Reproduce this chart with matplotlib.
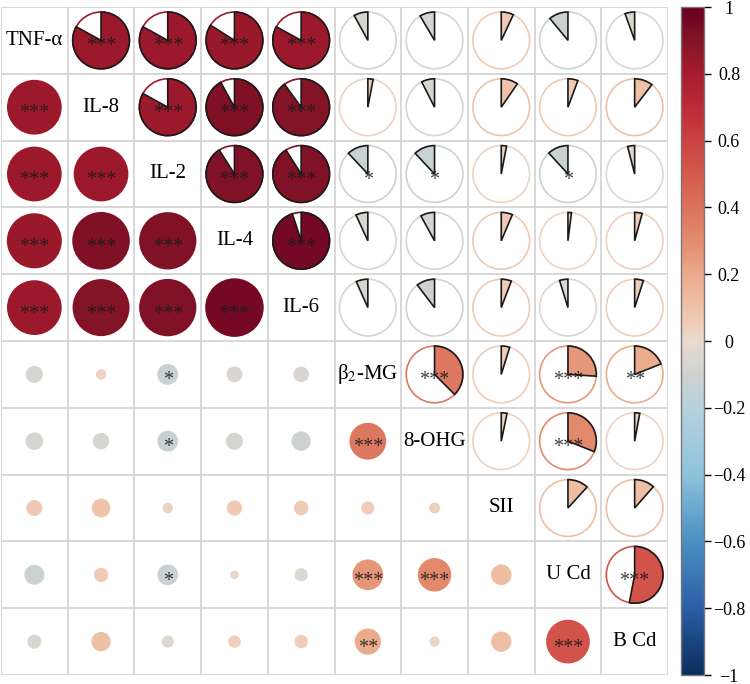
import numpy as np
import matplotlib
matplotlib.use('Agg')
import matplotlib.pyplot as plt
from matplotlib.colors import LinearSegmentedColormap, Normalize
from matplotlib.patches import Circle, Wedge
from matplotlib.colorbar import ColorbarBase

plt.rcParams['font.family'] = ['Liberation Serif', 'DejaVu Serif']
plt.rcParams['mathtext.fontset'] = 'stix'

labels = ['TNF-α', 'IL-8', 'IL-2', 'IL-4', 'IL-6', r'β$_2$-MG', '8-OHG', 'SII', 'U Cd', 'B Cd']

# correlations, upper triangle row by row (with the variables to the right)
r_tnf = [0.83, 0.83, 0.84, 0.83, -0.08, -0.085, 0.07, -0.11, -0.055]
r_il8 = [0.83, 0.92, 0.90, 0.03, -0.075, 0.096, 0.057, 0.104]
r_il2 = [0.91, 0.91, -0.12, -0.12, 0.03, -0.118, -0.04]
r_il4 = [0.95, -0.069, -0.08, 0.064, 0.02, 0.043]
r_il6 = [-0.067, -0.104, 0.058, -0.048, 0.05]
r_b2mg = [0.375, 0.048, 0.26, 0.19]
r_ohg = [0.033, 0.31, 0.029]
r_sii = [0.118, 0.115]
r_ucd = [0.53]

# significance stars, same layout
s_tnf = ['***', '***', '***', '***', '', '', '', '', '']
s_il8 = ['***', '***', '***', '', '', '', '', '']
s_il2 = ['***', '***', '*', '*', '', '*', '']
s_il4 = ['***', '', '', '', '', '']
s_il6 = ['', '', '', '', '']
s_b2mg = ['***', '', '***', '**']
s_ohg = ['', '***', '']
s_sii = ['', '']
s_ucd = ['***']

upper_r = [r_tnf, r_il8, r_il2, r_il4, r_il6, r_b2mg, r_ohg, r_sii, r_ucd]
upper_s = [s_tnf, s_il8, s_il2, s_il4, s_il6, s_b2mg, s_ohg, s_sii, s_ucd]

n = len(labels)
corr = np.eye(n)
stars = [['' for _ in range(n)] for _ in range(n)]
for i in range(n - 1):
    for k, (v, s) in enumerate(zip(upper_r[i], upper_s[i])):
        j = i + 1 + k
        corr[i, j] = corr[j, i] = v
        stars[i][j] = stars[j][i] = s

# colour scale
anchors = [
    (-1.0, '#0c2d5e'), (-0.8, '#2b5fa6'), (-0.6, '#4a90c2'), (-0.4, '#8ec3dd'),
    (-0.2, '#b5d2dd'), (-0.1, '#cfd2d0'), (-0.05, '#dcd7d0'), (0.0, '#e8dad0'),
    (0.05, '#efcdb9'), (0.12, '#eebea2'), (0.2, '#ebaa8b'), (0.3, '#e38b6e'),
    (0.4, '#db735c'), (0.5, '#d45a4c'), (0.6, '#cb4342'), (0.7, '#bd2b36'),
    (0.8, '#a81c2e'), (0.9, '#851428'), (1.0, '#67001f'),
]
cmap = LinearSegmentedColormap.from_list('corr', [((v + 1) / 2, c) for v, c in anchors])
norm = Normalize(-1, 1)

fig = plt.figure(figsize=(7.5, 6.84), dpi=100)
ax = fig.add_axes([1 / 750, 9 / 684, 667 / 750, 668 / 684])
ax.set_xlim(0, n)
ax.set_ylim(n, 0)
ax.axis('off')

grid_c = '#d4d4d4'
for k in range(n + 1):
    ax.plot([k, k], [0, n], color=grid_c, lw=1.3, zorder=0)
    ax.plot([0, n], [k, k], color=grid_c, lw=1.3, zorder=0)

R_PIE = 0.425
star_off = 0.165

for i in range(n):
    for j in range(n):
        cx, cy = j + 0.5, i + 0.5
        v = corr[i, j]
        col = cmap(norm(v))
        if i == j:
            ax.text(cx, cy, labels[i], ha='center', va='center', fontsize=15)
            continue
        if i > j:
            ax.add_patch(Circle((cx, cy), 0.45 * np.sqrt(abs(v)), fc=col, ec='none', zorder=2))
        else:
            ax.add_patch(Circle((cx, cy), R_PIE, fc='none', ec=col, lw=1.2, zorder=2))
            if v >= 0:
                t1, t2 = -90, -90 + 360 * v
            else:
                t1, t2 = -90 + 360 * v, -90
            ax.add_patch(Wedge((cx, cy), R_PIE, t1, t2, fc=col, ec='#1a1a1a', lw=1.2, zorder=3))
        if stars[i][j]:
            ax.text(cx, cy + star_off, stars[i][j], ha='center', va='baseline',
                    fontsize=14.5, color='#1a1a1a', alpha=0.85, zorder=4)

# colour bar
cax = fig.add_axes([681 / 750, 9 / 684, 23 / 750, 668 / 684])
ticks = np.round(np.arange(-1, 1.01, 0.2), 1)
cb = ColorbarBase(cax, cmap=cmap, norm=norm, ticks=ticks)
cb.outline.set_edgecolor('#777777')
cb.outline.set_linewidth(1)


def fmt(t):
    if t == 0:
        return '0'
    s = ('%g' % t).replace('-', '\u2212')
    return s


cax.set_yticklabels([fmt(t) for t in ticks])
cax.tick_params(axis='y', length=5, width=1, pad=13, labelsize=13)
for lab in cax.get_yticklabels():
    lab.set_horizontalalignment('center')

fig.savefig('out.png', dpi=100)
